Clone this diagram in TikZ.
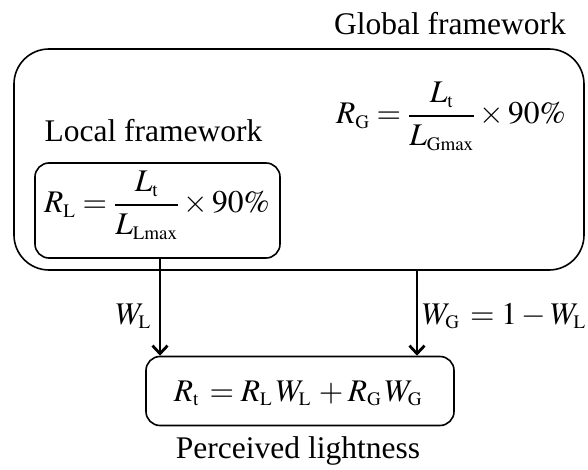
\documentclass[tikz,border=0pt]{standalone}
\usepackage{amsmath}
\usepackage{mathptmx}
\usepackage{fontspec}
\setmainfont{Liberation Serif}
\DeclareMathSizes{31.5}{31.5}{19}{14}
\usetikzlibrary{arrows.meta,calc}
\tikzset{
  frame/.style={draw, line width=1.6pt, inner sep=0pt},
  txt/.style={inner sep=0pt, font=\fontsize{31.5}{38}\selectfont},
  arr/.style={line width=1.6pt, -{Straight Barb[length=8pt,width=15pt,line width=2.8pt]}}
}
\begin{document}
\begin{tikzpicture}[x=1pt,y=-1pt]
\useasboundingbox (0,0) rectangle (588,470);
% boxes
\node[frame, rounded corners=35pt, minimum width=570pt, minimum height=221pt] (global) at (299,159.5) {};
\node[frame, rounded corners=14pt, minimum width=245pt, minimum height=95pt] (local) at (157.5,210.5) {};
\node[frame, rounded corners=14pt, minimum width=308pt, minimum height=69pt] (result) at (300,391) {};
% texts
\node[txt, anchor=base] (gtitle) at (450,35) {Global framework};
\node[txt, anchor=base] (ltitle) at (153.5,142) {Local framework};
\node[txt, anchor=base] (rg) at (451,124) {$R_{\mathrm{G}} = \dfrac{L_{\mathrm{t}}}{L_{\mathrm{Gmax}}} \times 90\%$};
\node[txt, anchor=base] (rl) at (157,213) {$R_{\mathrm{L}} = \dfrac{L_{\mathrm{t}}}{L_{\mathrm{Lmax}}} \times 90\%$};
\node[txt, anchor=base] (rt) at (298,401) {$R_{\mathrm{t}}\, = R_{\mathrm{L}}\,W_{\mathrm{L}}\, + R_{\mathrm{G}}\,W_{\mathrm{G}}$};
\node[txt, anchor=base] (ptitle) at (298,458) {Perceived lightness};
\node[txt, anchor=base east] (wl) at (151,324) {$W_{\mathrm{L}}$};
\node[txt, anchor=base west] (wg) at (422,324) {$W_{\mathrm{G}}\;\,{=}\;1-W_{\mathrm{L}}$};
% connectors
\coordinate (lx) at (160,0);
\coordinate (rx) at (417,0);
\draw[arr] (local.south -| lx) -- (result.north -| lx);
\draw[arr] (global.south -| rx) -- (result.north -| rx);
\end{tikzpicture}
\end{document}
